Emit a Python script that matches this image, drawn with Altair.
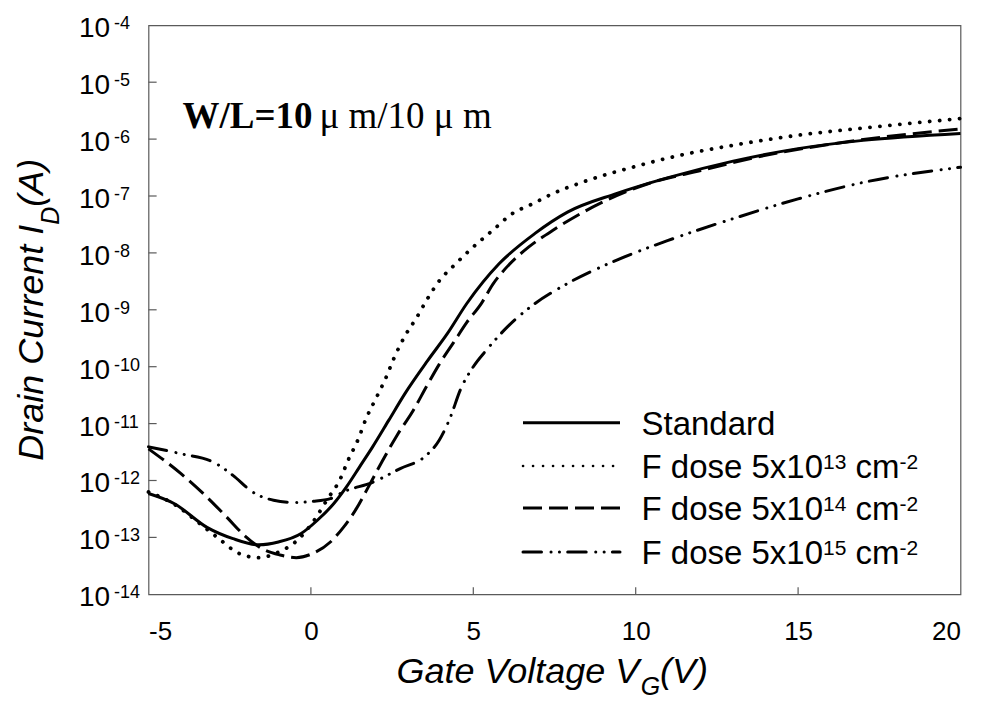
import altair as alt
import pandas as pd

# ---------------- data ----------------
std_vg = [-5.0, -4.2, -3.2, -2.4, -1.6, -1.0, -0.3, 0.2, 0.7, 1.1, 1.5, 1.9, 2.4, 2.9,
          3.6, 4.2, 4.8, 5.8, 6.9, 7.9, 9.4, 11.0, 13.0, 15.0, 17.0, 20.0]
std_id = [5.9e-13, 3.9e-13, 1.5e-13, 9.5e-14, 7.4e-14, 8.3e-14, 1.17e-13, 2.0e-13, 3.9e-13,
          7.8e-13, 1.74e-12, 3.9e-12, 1.15e-11, 3.4e-11, 1.29e-10, 3.8e-10, 1.29e-9, 6.5e-9,
          2.2e-8, 5.2e-8, 1.1e-7, 2.1e-7, 4.1e-7, 6.8e-7, 9.5e-7, 1.26e-6]

d13_vg = [-5.0, -4.2, -3.5, -2.9, -2.2, -1.6, -1.0, -0.4, 0.1, 0.5, 0.9, 1.15, 1.45, 1.7,
          2.0, 2.3, 2.55, 2.9, 3.25, 3.6, 4.0, 4.35, 4.95, 5.6, 6.2, 6.85, 7.4, 8.4, 9.9,
          11.5, 13.0, 15.0, 17.1, 20.0]
d13_id = [6.3e-13, 3.8e-13, 1.9e-13, 1.02e-13, 5.2e-14, 4.4e-14, 5.5e-14, 9.1e-14, 2.0e-13,
          4.6e-13, 1.05e-12, 2.3e-12, 5.2e-12, 1.23e-11, 2.75e-11, 6.2e-11, 1.38e-10, 3.5e-10,
          7.2e-10, 1.6e-9, 3.5e-9, 5.6e-9, 1.2e-8, 2.5e-8, 4.9e-8, 7.4e-8, 1.07e-7, 1.78e-7,
          3.2e-7, 5.4e-7, 7.8e-7, 1.17e-6, 1.58e-6, 2.3e-6]

d14_vg = [-5.0, -4.0, -3.2, -2.6, -2.0, -1.5, -0.95, -0.45, 0.05, 0.6, 1.0, 1.4, 1.8, 2.2,
          2.65, 3.15, 3.55, 3.95, 4.4, 4.8, 5.25, 5.6, 6.1, 6.7, 7.5, 8.9, 10.4, 12.0, 14.0,
          16.1, 18.1, 20.0]
d14_id = [3.6e-12, 1.32e-12, 5.1e-13, 2.3e-13, 1.02e-13, 6.3e-14, 4.9e-14, 4.4e-14, 5.2e-14,
          8.3e-14, 1.5e-13, 3.2e-13, 8.3e-13, 2.2e-12, 6.2e-12, 1.7e-11, 4.4e-11, 1.1e-10,
          2.7e-10, 6.0e-10, 1.3e-9, 2.8e-9, 6.2e-9, 1.26e-8, 2.6e-8, 7.4e-8, 1.66e-7, 2.8e-7,
          5.2e-7, 8.3e-7, 1.17e-6, 1.5e-6]

d15_vg = [-5.0, -4.0, -3.0, -2.4, -1.8, -1.15, -0.45, 0.05, 0.6, 1.0, 1.9, 2.75, 3.55, 3.95,
          4.3, 4.6, 5.0, 5.4, 6.05, 6.8, 7.9, 9.4, 11.0, 13.0, 15.0, 17.1, 20.0]
d15_id = [3.9e-12, 2.95e-12, 2.1e-12, 1.23e-12, 6.3e-13, 4.5e-13, 4.1e-13, 4.3e-13, 4.8e-13,
          6.3e-13, 9.3e-13, 1.62e-12, 2.75e-12, 5.1e-12, 1.32e-11, 3.9e-11, 1.0e-10, 1.95e-10,
          5.0e-10, 1.17e-9, 2.9e-9, 7.4e-9, 1.66e-8, 4.0e-8, 8.9e-8, 1.78e-7, 3.2e-7]

x_ticks = [-5, 0, 5, 10, 15, 20]
x_inner_ticks = [0, 5, 10, 15]
y_decades = [1e-4, 1e-5, 1e-6, 1e-7, 1e-8, 1e-9, 1e-10, 1e-11, 1e-12, 1e-13, 1e-14]
y_exps = ["-4", "-5", "-6", "-7", "-8", "-9", "-10", "-11", "-12", "-13", "-14"]
y_inner_ticks = [1e-5, 1e-6, 1e-7, 1e-8, 1e-9, 1e-10, 1e-11, 1e-12, 1e-13]

# ---------------- layout helpers ----------------
W, H = 812, 569
SANS = "Liberation Sans"
SERIF = "Liberation Serif"
ARIAL = {' ': .278, 'G': .778, 'a': .556, 't': .278, 'e': .556, 'V': .667, 'o': .556,
         'l': .222, 'g': .556, '(': .333, ')': .333, 'D': .722, 'r': .333, 'i': .222,
         'n': .556, 'C': .722, 'u': .556, 'I': .278, 'A': .667, 'F': .611, 'd': .556,
         's': .5, '5': .556, 'x': .5, '1': .556, '0': .556, 'c': .5, 'm': .833, '-': .333,
         '2': .556, '3': .556, '4': .556, 'S': .667}


def tw(s, size):
    return sum(ARIAL[c] for c in s) * size


xscale = alt.Scale(domain=[-5, 20], nice=False, zero=False)
yscale = alt.Scale(type="log", domain=[1e-14, 1e-4], nice=False)
xaxis = alt.Axis(values=x_ticks, labelExpr="'' + datum.value", ticks=False, domain=False,
                 grid=False, labelFontSize=26, labelFont=SANS, labelColor="black",
                 labelBaseline="alphabetic", labelPadding=45, title=None)

one = pd.DataFrame({"k": [0]})


def txt(s, x, y, size, font=SANS, weight="normal", style="normal", angle=None):
    kw = dict(text=s, fontSize=size, font=font, fontWeight=weight, fontStyle=style,
              align="left", baseline="alphabetic", color="black")
    if angle is not None:
        kw["angle"] = angle
    return alt.Chart(one).mark_text(**kw).encode(x=alt.value(x), y=alt.value(y))


layers = []

# ---------------- curves ----------------
series = [
    (std_vg, std_id, dict(strokeWidth=3)),
    (d13_vg, d13_id, dict(strokeWidth=3.8, strokeDash=[0.1, 9.9], strokeCap="round")),
    (d14_vg, d14_id, dict(strokeWidth=3, strokeDash=[19, 7])),
    (d15_vg, d15_id, dict(strokeWidth=3, strokeDash=[18.5, 9.5, 0.1, 8.3, 0.1, 8.2],
                          strokeCap="round")),
]
for vg, idv, style in series:
    df = pd.DataFrame({"vg": vg, "id": idv})
    layers.append(
        alt.Chart(df).mark_line(color="black", interpolate="monotone", **style).encode(
            x=alt.X("vg:Q", scale=xscale, axis=xaxis),
            y=alt.Y("id:Q", scale=yscale, axis=None),
        )
    )

# ---------------- inward ticks ----------------
ytk = pd.DataFrame({"y": y_inner_ticks, "x0": [-5] * len(y_inner_ticks),
                    "x1": [-4.75] * len(y_inner_ticks)})
layers.append(alt.Chart(ytk).mark_rule(color="#5a5a5a", strokeWidth=1.2).encode(
    x=alt.X("x0:Q", scale=xscale, axis=xaxis), x2="x1:Q",
    y=alt.Y("y:Q", scale=yscale, axis=None)))
xtk = pd.DataFrame({"x": x_inner_ticks, "y0": [1e-14] * 4, "y1": [1.33e-14] * 4})
layers.append(alt.Chart(xtk).mark_rule(color="#5a5a5a", strokeWidth=1.2).encode(
    x=alt.X("x:Q", scale=xscale, axis=xaxis),
    y=alt.Y("y0:Q", scale=yscale, axis=None), y2="y1:Q"))

# ---------------- y tick labels (10 with superscript) ----------------
ylab = pd.DataFrame({"dec": y_decades, "exp": y_exps})
layers.append(alt.Chart(ylab).mark_text(text="10", font=SANS, fontSize=28, align="left",
                                        baseline="alphabetic", dy=12, color="black").encode(
    x=alt.value(-69.5), y=alt.Y("dec:Q", scale=yscale, axis=None)))
layers.append(alt.Chart(ylab).mark_text(font=SANS, fontSize=18, align="left",
                                        baseline="alphabetic", dy=4, color="black").encode(
    x=alt.value(-34.5), y=alt.Y("dec:Q", scale=yscale, axis=None), text="exp:N"))

# ---------------- axis titles ----------------
main_x = "Gate Voltage V"
x0 = 248
layers.append(txt(main_x, x0, 658, 36, style="italic"))
layers.append(txt("G", x0 + tw(main_x, 36), 670, 25, style="italic"))
layers.append(txt("(V)", x0 + tw(main_x, 36) + tw("G", 25), 658, 36, style="italic"))

main_y = "Drain Current I"
y0 = 435.5
layers.append(txt(main_y, -106, y0, 36, style="italic", angle=270))
layers.append(txt("D", -90, y0 - tw(main_y, 36), 25, style="italic", angle=270))
layers.append(txt("(A)", -106, y0 - tw(main_y, 36) - tw("D", 25), 36, style="italic", angle=270))

# ---------------- annotation ----------------
layers.append(txt("W/L=10", 34, 102.4, 37, font=SERIF, weight="bold"))
layers.append(txt("\u03bc m/10 \u03bc m", 171, 102.4, 37, font=SERIF))

# ---------------- legend ----------------
leg_rows = [397.4, 440.7, 482.7, 526.7]
leg_x1, leg_x2, leg_tx = 374.5, 471.5, 493
leg_styles = [
    dict(strokeWidth=3),
    dict(strokeWidth=2.6, strokeDash=[0.1, 9.9], strokeCap="round"),
    dict(strokeWidth=3, strokeDash=[19, 7]),
    dict(strokeWidth=3, strokeDash=[18.5, 9.5, 0.1, 8.3, 0.1, 8.2], strokeCap="round"),
]
leg_exps = [None, "13", "14", "15"]
for ry, st, ex in zip(leg_rows, leg_styles, leg_exps):
    layers.append(alt.Chart(one).mark_rule(color="black", **st).encode(
        x=alt.value(leg_x1), x2=alt.value(leg_x2), y=alt.value(ry)))
    base = ry + 12.3
    if ex is None:
        layers.append(txt("Standard", leg_tx, base, 33))
    else:
        p1 = "F dose 5x10"
        xa = leg_tx
        layers.append(txt(p1, xa, base, 33))
        xa += tw(p1, 33)
        layers.append(txt(ex, xa, base - 9, 21))
        xa += tw(ex, 21) + tw(" ", 33)
        layers.append(txt("cm", xa, base, 33))
        xa += tw("cm", 33)
        layers.append(txt("-2", xa, base - 9, 21))

chart = alt.layer(*layers).properties(
    width=W, height=H,
    autosize=alt.AutoSizeParams(type="none"),
    padding={"left": 140.5, "top": 17.3, "right": 14, "bottom": 109},
).configure_view(stroke="#5a5a5a", strokeWidth=1.2)

chart.save("out.html", embed_options={"renderer": "svg", "actions": False})
